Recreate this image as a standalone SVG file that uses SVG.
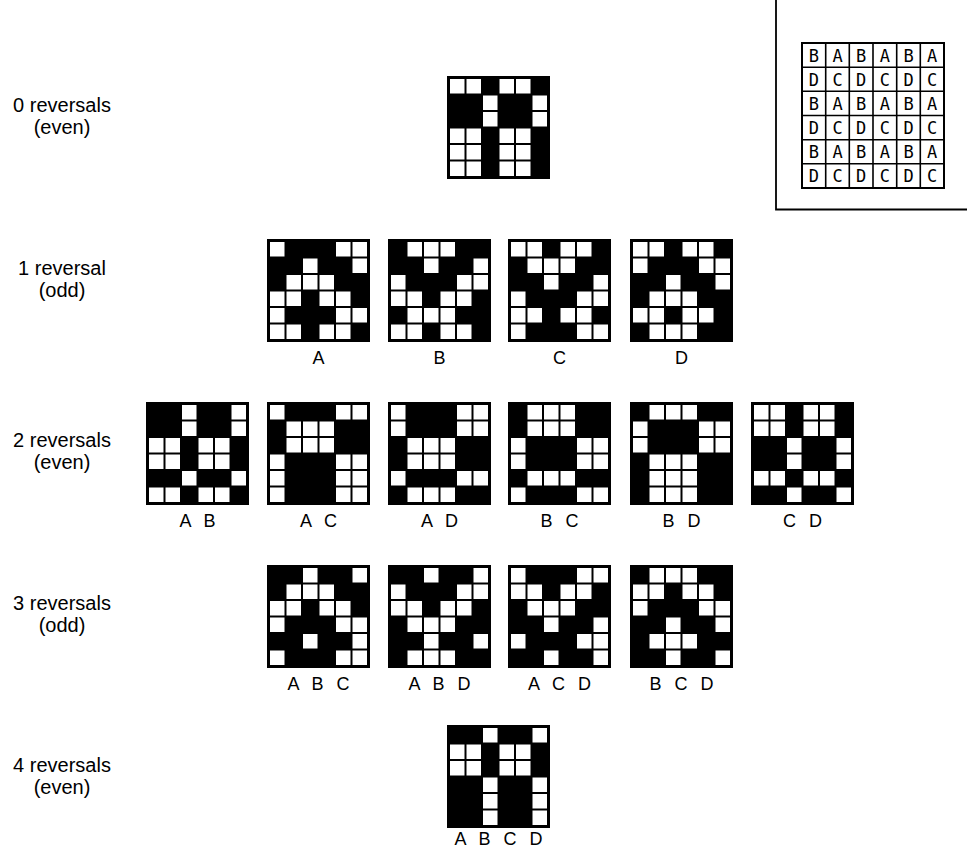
<svg xmlns="http://www.w3.org/2000/svg" xmlns:xlink="http://www.w3.org/1999/xlink" width="967" height="848" viewBox="0 0 967 848">
<style>
.lbl{font-family:"Liberation Sans",Arial,sans-serif;font-size:20px;fill:#000;text-anchor:middle}
.gl{font-family:"Liberation Sans",Arial,sans-serif;font-size:18px;fill:#000;text-anchor:middle;word-spacing:8px}
.key{font-family:"DejaVu Sans Mono","Liberation Mono",monospace;font-size:17px;fill:#000;text-anchor:middle}
.w{fill:#fff}
.bg{fill:#000}
.frame{stroke:#000;stroke-width:1.8;fill:none}
</style>
<defs>
<g id="p1"><rect class="w" x="3" y="3" width="14.5" height="14.5"/><rect class="w" x="19.5" y="3" width="14.5" height="14.5"/><rect class="w" x="52.5" y="3" width="14.5" height="14.5"/><rect class="w" x="69" y="3" width="14.5" height="14.5"/></g>
<g id="p2"><rect class="w" x="36" y="3" width="14.5" height="14.5"/><rect class="w" x="85.5" y="3" width="14.5" height="14.5"/></g>
<g id="p3"><rect class="w" x="19.5" y="3" width="14.5" height="14.5"/><rect class="w" x="36" y="3" width="14.5" height="14.5"/><rect class="w" x="52.5" y="3" width="14.5" height="14.5"/></g>
<g id="p4"><rect class="w" x="3" y="3" width="14.5" height="14.5"/><rect class="w" x="69" y="3" width="14.5" height="14.5"/><rect class="w" x="85.5" y="3" width="14.5" height="14.5"/></g>
</defs>
<rect width="967" height="848" fill="#fff"/>

<g id="row-labels">
<text class="lbl" x="62" y="112">0 reversals</text><text class="lbl" x="62" y="134">(even)</text>
<text class="lbl" x="62" y="275">1 reversal</text><text class="lbl" x="62" y="297">(odd)</text>
<text class="lbl" x="62" y="447">2 reversals</text><text class="lbl" x="62" y="469">(even)</text>
<text class="lbl" x="62" y="610">3 reversals</text><text class="lbl" x="62" y="632">(odd)</text>
<text class="lbl" x="62" y="772">4 reversals</text><text class="lbl" x="62" y="794">(even)</text>
</g>

<g id="g0" transform="translate(447,76)"><rect class="bg" width="103" height="103"/>
<use href="#p1" y="0"/><use href="#p2" y="16.5"/><use href="#p2" y="33"/><use href="#p1" y="49.5"/><use href="#p1" y="66"/><use href="#p1" y="82.5"/></g>

<g id="gA" transform="translate(267,239)"><rect class="bg" width="103" height="103"/>
<use href="#p4" y="0"/><use href="#p2" y="16.5"/><use href="#p3" y="33"/><use href="#p1" y="49.5"/><use href="#p4" y="66"/><use href="#p1" y="82.5"/>
<text class="gl" x="51.5" y="125">A</text></g>
<g id="gB" transform="translate(388,239)"><rect class="bg" width="103" height="103"/>
<use href="#p3" y="0"/><use href="#p2" y="16.5"/><use href="#p4" y="33"/><use href="#p1" y="49.5"/><use href="#p3" y="66"/><use href="#p1" y="82.5"/>
<text class="gl" x="51.5" y="125">B</text></g>
<g id="gC" transform="translate(508,239)"><rect class="bg" width="103" height="103"/>
<use href="#p1" y="0"/><use href="#p3" y="16.5"/><use href="#p2" y="33"/><use href="#p4" y="49.5"/><use href="#p1" y="66"/><use href="#p4" y="82.5"/>
<text class="gl" x="51.5" y="125">C</text></g>
<g id="gD" transform="translate(630,239)"><rect class="bg" width="103" height="103"/>
<use href="#p1" y="0"/><use href="#p4" y="16.5"/><use href="#p2" y="33"/><use href="#p3" y="49.5"/><use href="#p1" y="66"/><use href="#p3" y="82.5"/>
<text class="gl" x="51.5" y="125">D</text></g>

<g id="gAB" transform="translate(146,402)"><rect class="bg" width="103" height="103"/>
<use href="#p2" y="0"/><use href="#p2" y="16.5"/><use href="#p1" y="33"/><use href="#p1" y="49.5"/><use href="#p2" y="66"/><use href="#p1" y="82.5"/>
<text class="gl" x="51.5" y="125">A B</text></g>
<g id="gAC" transform="translate(267,402)"><rect class="bg" width="103" height="103"/>
<use href="#p4" y="0"/><use href="#p3" y="16.5"/><use href="#p3" y="33"/><use href="#p4" y="49.5"/><use href="#p4" y="66"/><use href="#p4" y="82.5"/>
<text class="gl" x="51.5" y="125">A C</text></g>
<g id="gAD" transform="translate(388,402)"><rect class="bg" width="103" height="103"/>
<use href="#p4" y="0"/><use href="#p4" y="16.5"/><use href="#p3" y="33"/><use href="#p3" y="49.5"/><use href="#p4" y="66"/><use href="#p3" y="82.5"/>
<text class="gl" x="51.5" y="125">A D</text></g>
<g id="gBC" transform="translate(508,402)"><rect class="bg" width="103" height="103"/>
<use href="#p3" y="0"/><use href="#p3" y="16.5"/><use href="#p4" y="33"/><use href="#p4" y="49.5"/><use href="#p3" y="66"/><use href="#p4" y="82.5"/>
<text class="gl" x="51.5" y="125">B C</text></g>
<g id="gBD" transform="translate(630,402)"><rect class="bg" width="103" height="103"/>
<use href="#p3" y="0"/><use href="#p4" y="16.5"/><use href="#p4" y="33"/><use href="#p3" y="49.5"/><use href="#p3" y="66"/><use href="#p3" y="82.5"/>
<text class="gl" x="51.5" y="125">B D</text></g>
<g id="gCD" transform="translate(751,402)"><rect class="bg" width="103" height="103"/>
<use href="#p1" y="0"/><use href="#p1" y="16.5"/><use href="#p2" y="33"/><use href="#p2" y="49.5"/><use href="#p1" y="66"/><use href="#p2" y="82.5"/>
<text class="gl" x="51.5" y="125">C D</text></g>

<g id="gABC" transform="translate(267,565)"><rect class="bg" width="103" height="103"/>
<use href="#p2" y="0"/><use href="#p3" y="16.5"/><use href="#p1" y="33"/><use href="#p4" y="49.5"/><use href="#p2" y="66"/><use href="#p4" y="82.5"/>
<text class="gl" x="51.5" y="125">A B C</text></g>
<g id="gABD" transform="translate(388,565)"><rect class="bg" width="103" height="103"/>
<use href="#p2" y="0"/><use href="#p4" y="16.5"/><use href="#p1" y="33"/><use href="#p3" y="49.5"/><use href="#p2" y="66"/><use href="#p3" y="82.5"/>
<text class="gl" x="51.5" y="125">A B D</text></g>
<g id="gACD" transform="translate(508,565)"><rect class="bg" width="103" height="103"/>
<use href="#p4" y="0"/><use href="#p1" y="16.5"/><use href="#p3" y="33"/><use href="#p2" y="49.5"/><use href="#p4" y="66"/><use href="#p2" y="82.5"/>
<text class="gl" x="51.5" y="125">A C D</text></g>
<g id="gBCD" transform="translate(630,565)"><rect class="bg" width="103" height="103"/>
<use href="#p3" y="0"/><use href="#p1" y="16.5"/><use href="#p4" y="33"/><use href="#p2" y="49.5"/><use href="#p3" y="66"/><use href="#p2" y="82.5"/>
<text class="gl" x="51.5" y="125">B C D</text></g>

<g id="gABCD" transform="translate(447,725)"><rect class="bg" width="103" height="103"/>
<use href="#p2" y="0"/><use href="#p1" y="16.5"/><use href="#p1" y="33"/><use href="#p2" y="49.5"/><use href="#p2" y="66"/><use href="#p2" y="82.5"/>
<text class="gl" x="51.5" y="120">A B C D</text></g>

<g id="connectors"></g>

<g id="key">
<path class="frame" d="M776,0 V209.5 H967"/>
<rect x="802" y="43" width="142" height="145" fill="#fff" stroke="#000" stroke-width="2"/>
<path d="M825.7,43V188M849.3,43V188M873,43V188M896.7,43V188M920.3,43V188M802,67.2H944M802,91.3H944M802,115.5H944M802,139.7H944M802,163.8H944" stroke="#000" stroke-width="1.6" fill="none"/>
<text class="key" y="61.5"><tspan x="813.8">B</tspan><tspan x="837.5">A</tspan><tspan x="861.2">B</tspan><tspan x="884.8">A</tspan><tspan x="908.5">B</tspan><tspan x="932.2">A</tspan></text>
<text class="key" y="85.7"><tspan x="813.8">D</tspan><tspan x="837.5">C</tspan><tspan x="861.2">D</tspan><tspan x="884.8">C</tspan><tspan x="908.5">D</tspan><tspan x="932.2">C</tspan></text>
<text class="key" y="109.8"><tspan x="813.8">B</tspan><tspan x="837.5">A</tspan><tspan x="861.2">B</tspan><tspan x="884.8">A</tspan><tspan x="908.5">B</tspan><tspan x="932.2">A</tspan></text>
<text class="key" y="134"><tspan x="813.8">D</tspan><tspan x="837.5">C</tspan><tspan x="861.2">D</tspan><tspan x="884.8">C</tspan><tspan x="908.5">D</tspan><tspan x="932.2">C</tspan></text>
<text class="key" y="158.2"><tspan x="813.8">B</tspan><tspan x="837.5">A</tspan><tspan x="861.2">B</tspan><tspan x="884.8">A</tspan><tspan x="908.5">B</tspan><tspan x="932.2">A</tspan></text>
<text class="key" y="182.3"><tspan x="813.8">D</tspan><tspan x="837.5">C</tspan><tspan x="861.2">D</tspan><tspan x="884.8">C</tspan><tspan x="908.5">D</tspan><tspan x="932.2">C</tspan></text>
</g>
</svg>
